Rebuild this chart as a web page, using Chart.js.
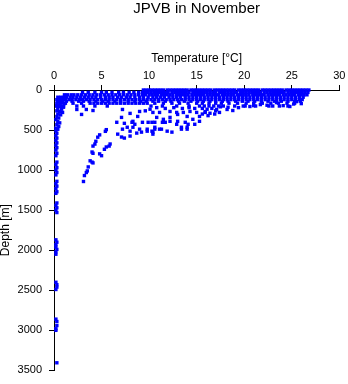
<!DOCTYPE html>
<html>
<head>
<meta charset="utf-8">
<script src="https://cdn.jsdelivr.net/npm/chart.js@4/dist/chart.umd.min.js"></script>
<style>
    html, body { margin: 0; padding: 0; background: #fff; }
    canvas { display: block; }
</style>
</head>
<body>
<canvas id="chart" width="348" height="384"></canvas>
<script>
const chartTitle = 'JPVB in November';
const xTitle = 'Temperature [°C]';
const yTitle = 'Depth [m]';
const xTicks = [0, 5, 10, 15, 20, 25, 30];
const yTicks = [0, 500, 1000, 1500, 2000, 2500, 3000, 3500];

// upper layer, one row of temperatures per depth level
const bandDepths = [0, 30, 60, 90, 120, 140, 165, 200];
const bandTemps = [
    [9.4, 9.7, 10.0, 10.3, 10.6, 10.9, 11.2, 11.5, 11.9, 12.2, 12.5, 12.8, 13.1, 13.4, 13.7, 14.0, 14.4, 14.7, 15.0, 15.3,
     15.6, 15.9, 16.2, 16.5, 16.9, 17.2, 17.5, 17.8, 18.1, 18.4, 18.7, 19.0, 19.4, 19.7, 20.0, 20.3, 20.6, 20.9, 21.2, 21.5,
     21.9, 22.2, 22.5, 22.8, 23.1, 23.4, 23.7, 24.0, 24.4, 24.7, 25.0, 25.3, 25.6, 25.9, 26.2, 26.5, 26.8],
    [3.0, 3.6, 4.3, 5.0, 5.5, 6.1, 6.8, 7.3, 7.9, 8.4, 8.9, 9.3, 9.6, 9.9, 10.2, 10.5, 10.8, 11.1, 11.4, 11.7, 12.0, 12.4,
     12.7, 13.0, 13.3, 13.6, 13.9, 14.2, 14.6, 14.9, 15.2, 15.5, 15.8, 16.1, 16.4, 16.7, 17.0, 17.4, 17.7, 18.0, 18.3, 18.6,
     18.9, 19.2, 19.6, 19.9, 20.2, 20.5, 20.8, 21.1, 21.4, 21.7, 22.1, 22.4, 22.7, 23.0, 23.3, 23.6, 23.9, 24.2, 24.6, 24.9,
     25.2, 25.5, 25.8, 26.1, 26.4, 26.7],
    [1.1, 1.4, 1.8, 2.1, 2.5, 2.9, 3.3, 3.7, 4.1, 4.5, 4.9, 5.3, 5.7, 6.1, 6.5, 6.9, 7.3, 7.7, 8.1, 8.5, 8.9, 9.3, 9.6, 10.0,
     10.3, 10.6, 10.9, 11.3, 11.6, 11.9, 12.2, 12.5, 12.9, 13.2, 13.5, 13.8, 14.1, 14.5, 14.8, 15.1, 15.4, 15.7, 16.1, 16.4,
     16.7, 17.0, 17.3, 17.7, 18.0, 18.3, 18.6, 18.9, 19.3, 19.6, 19.9, 20.2, 20.5, 20.9, 21.2, 21.5, 21.8, 22.1, 22.5, 22.8,
     23.1, 23.4, 23.7, 24.1, 24.4, 24.7, 25.0, 25.3, 25.7, 26.0, 26.3, 26.6],
    [0.4, 0.7, 1.0, 1.3, 1.7, 2.0, 2.4, 2.8, 3.2, 3.6, 4.0, 4.4, 4.9, 5.4, 5.8, 6.2, 6.7, 7.1, 7.6, 8.0, 8.5, 9.0, 9.4, 9.9,
     10.4, 10.8, 11.2, 11.6, 12.1, 12.5, 12.9, 13.3, 13.8, 14.2, 14.6, 15.0, 15.4, 15.8, 16.2, 16.6, 17.0, 17.4, 17.8, 18.2,
     18.6, 19.0, 19.4, 19.8, 20.2, 20.6, 21.0, 21.4, 21.8, 22.2, 22.6, 23.0, 23.4, 23.8, 24.2, 24.6, 25.0, 25.4, 25.8, 26.2],
    [0.3, 0.6, 0.9, 1.2, 1.6, 1.9, 2.3, 2.7, 3.0, 3.4, 3.8, 4.2, 4.6, 5.0, 5.4, 5.8, 6.2, 6.6, 7.0, 7.4, 7.8, 8.2, 8.6,
     9.0, 9.4, 9.8, 10.2, 10.6, 11.0, 11.4, 11.8, 12.2, 12.6, 13.0, 13.4, 13.8, 14.2, 14.6, 15.0, 15.4, 15.8, 16.2, 16.6,
     17.0, 17.4, 17.8, 18.2, 18.6, 19.0, 19.4, 19.8, 20.2, 20.6, 21.0, 21.4, 21.8, 22.2, 22.6, 23.0, 23.4, 23.8, 24.2,
     24.6, 25.0, 25.4, 25.8, 26.1],
    [0.4, 0.8, 1.3, 1.9, 2.6, 3.1, 3.7, 4.4, 5.1, 5.7, 6.4, 7.0, 7.8, 8.5, 9.1, 9.7, 10.4, 11.0, 11.7, 12.3, 13.1, 13.7,
     14.4, 15.1, 15.7, 16.4, 17.0, 17.7, 18.3, 19.1, 19.8, 20.4, 21.1, 21.8, 22.5, 23.2, 23.9, 24.6, 25.3, 25.9],
    [0.3, 0.7, 1.2, 2.0, 2.9, 3.8, 4.2, 4.6, 5.0, 5.4, 5.8, 6.2, 6.6, 7.0, 7.4, 7.8, 8.2, 8.6, 9.0, 9.4, 9.8, 10.6, 11.5,
     12.4, 13.2, 14.1, 15.0, 15.6, 16.3, 17.0, 17.6, 18.4, 19.3, 20.2, 21.0, 21.9, 22.8, 23.6, 24.5, 25.3],
    [0.3, 0.6, 1.0, 2.4, 3.1, 4.3, 5.6, 10.2, 11.4, 12.9, 14.2, 15.3, 15.8, 16.3, 16.8, 17.3, 17.8, 19.0, 20.1, 21.2,
     22.6, 23.7, 24.6]
];

// thermocline scatter [temperature, depth]
const thermoPoints = [
    [10.4, 280], [10.3, 403], [10.6, 403], [10.6, 489], [10.4, 551], [11.1, 489], [11.9, 514], [12.4, 526], [11.4, 403],
    [12.2, 391], [13.0, 391], [13.4, 465], [14.0, 489], [14.1, 428], [14.6, 366], [15.3, 330], [15.9, 280], [15.0, 280],
    [14.3, 268], [17.1, 243], [18.2, 243], [18.8, 256], [20.6, 206], [21.7, 182], [23.4, 157], [24.8, 206], [25.5, 145],
    [11.1, 280], [12.2, 268], [12.9, 280], [13.6, 280], [6.6, 403], [7.4, 416], [8.2, 403], [8.5, 428], [7.7, 465],
    [8.3, 465], [9.0, 489], [9.2, 526], [8.0, 514], [7.2, 489], [6.7, 551], [7.1, 587], [7.4, 600], [8.0, 575], [8.7, 538],
    [9.8, 514], [10.4, 526], [10.6, 465], [11.3, 489], [11.7, 403], [12.9, 428], [13.4, 489], [14.0, 465], [14.8, 428],
    [15.3, 391], [2.4, 243], [2.9, 305], [3.4, 243], [4.1, 256], [7.1, 342], [8.3, 391], [8.8, 330], [9.3, 403],
    [7.2, 243], [8.0, 292], [9.0, 268], [15.6, 230], [16.1, 240], [16.6, 230], [17.0, 260], [15.9, 270], [16.4, 290],
    [16.9, 300], [17.4, 280], [15.6, 300], [16.2, 320], [17.5, 210], [18.3, 215], [19.4, 220], [19.9, 200], [14.8, 230],
    [14.2, 220], [13.5, 230], [12.6, 220], [11.7, 230], [10.8, 220], [10.1, 240], [9.6, 260], [21.0, 195], [22.4, 190],
    [23.0, 200], [24.1, 195], [25.2, 175], [26.0, 170], [9.8, 489], [10.3, 514], [9.9, 403], [10.8, 342], [11.5, 366],
    [12.2, 342], [13.8, 403], [14.0, 330], [13.0, 305]
];

// cold intermediate branch [temperature, depth]
const tailPoints = [
    [5.5, 495], [5.4, 516], [4.8, 560], [4.6, 589], [4.4, 640], [4.3, 675], [4.1, 700], [4.0, 774], [4.1, 790],
    [3.8, 884], [4.0, 900], [4.1, 910], [3.6, 960], [3.5, 1010], [3.4, 1030], [3.2, 1068], [3.1, 1142], [4.8, 797],
    [5.0, 820], [5.5, 711], [5.8, 700], [5.3, 740], [5.9, 674]
];

// near-freezing profiles [temperature, depth]
const coldPoints = [
    [0.6, 130], [0.9, 135], [0.4, 150], [0.8, 160], [1.1, 170], [0.5, 185], [0.3, 200], [0.7, 205], [1.0, 215],
    [0.4, 230], [0.8, 240], [0.3, 260], [0.6, 270], [0.9, 280], [0.4, 300], [0.7, 310], [0.3, 330], [0.5, 350],
    [0.2, 370], [0.4, 395], [0.6, 410], [0.3, 430], [0.5, 455], [0.2, 475], [0.4, 490], [0.2, 510], [0.3, 540],
    [0.2, 570], [0.3, 600], [0.2, 630], [0.3, 660], [0.2, 690], [0.3, 720], [0.2, 750], [0.3, 790], [0.2, 820],
    [0.3, 900], [0.2, 930], [0.3, 970], [0.2, 1000], [0.3, 1030], [0.2, 1060], [0.3, 1140], [0.2, 1170],
    [0.3, 1200], [0.2, 1230], [0.3, 1270], [0.2, 1290]
];

// deep samples [temperature, depth]
const deepPoints = [
    [0.3, 1410], [0.2, 1440], [0.3, 1470], [0.2, 1500], [0.3, 1530], [0.2, 1870], [0.3, 1900], [0.2, 1930],
    [0.2, 1960], [0.3, 1990], [0.2, 2020], [0.2, 2050], [0.2, 2400], [0.3, 2430], [0.3, 2460], [0.2, 2490],
    [0.2, 2860], [0.3, 2890], [0.3, 2940], [0.2, 2980], [0.2, 3000], [0.3, 3405]
];

const points = [];
bandDepths.forEach((d, i) => bandTemps[i].forEach(t => points.push({ x: t, y: d })));
[thermoPoints, tailPoints, coldPoints, deepPoints].forEach(list => {
    list.forEach(p => points.push({ x: p[0], y: p[1] }));
});

const fontFamily = '"Liberation Sans", Arial, Helvetica, sans-serif';

const titlePlugin = {
    id: 'centerTitle',
    afterDraw(chart) {
        const { ctx, chartArea } = chart;
        ctx.save();
        ctx.fillStyle = '#000';
        ctx.font = '15px ' + fontFamily;
        ctx.textAlign = 'center';
        ctx.textBaseline = 'middle';
        ctx.fillText(chartTitle, (chartArea.left + chartArea.right) / 2, 9);
        ctx.restore();
    }
};

new Chart(document.getElementById('chart').getContext('2d'), {
    type: 'scatter',
    data: {
        datasets: [{
            data: points,
            backgroundColor: '#0000ff',
            borderWidth: 0,
            pointStyle: 'rect',
            pointRadius: 2.4,
            clip: false
        }]
    },
    options: {
        responsive: false,
        animation: false,
        devicePixelRatio: 1,
        layout: { padding: { left: 0, top: 0, right: 8.7, bottom: 8.3 } },
        plugins: {
            legend: { display: false },
            tooltip: { enabled: false },
            title: { display: false }
        },
        scales: {
            x: {
                type: 'linear',
                position: 'top',
                min: 0,
                max: 30,
                afterBuildTicks: s => { s.ticks = xTicks.map(v => ({ value: v })); },
                afterFit: s => { s.height = 90; },
                ticks: {
                    color: '#000',
                    font: { family: fontFamily, size: 11 },
                    padding: 2,
                    callback: v => String(v)
                },
                grid: { drawOnChartArea: false, drawTicks: true, tickLength: 5, color: '#000' },
                border: { color: '#000' },
                title: {
                    display: true,
                    text: xTitle,
                    color: '#000',
                    font: { family: fontFamily, size: 12, lineHeight: 1 },
                    padding: { top: 53, bottom: 0 }
                }
            },
            y: {
                type: 'linear',
                position: 'left',
                reverse: true,
                min: 0,
                max: 3500,
                afterBuildTicks: s => { s.ticks = yTicks.map(v => ({ value: v })); },
                afterFit: s => { s.width = 54; },
                ticks: {
                    color: '#000',
                    font: { family: fontFamily, size: 11 },
                    padding: 7,
                    callback: v => String(v)
                },
                grid: { drawOnChartArea: false, drawTicks: true, tickLength: 5, color: '#000' },
                border: { color: '#000' },
                title: {
                    display: true,
                    text: yTitle,
                    color: '#000',
                    font: { family: fontFamily, size: 12, lineHeight: 1 },
                    padding: { top: 0, bottom: 0 }
                }
            }
        }
    },
    plugins: [titlePlugin]
});
</script>
</body>
</html>
